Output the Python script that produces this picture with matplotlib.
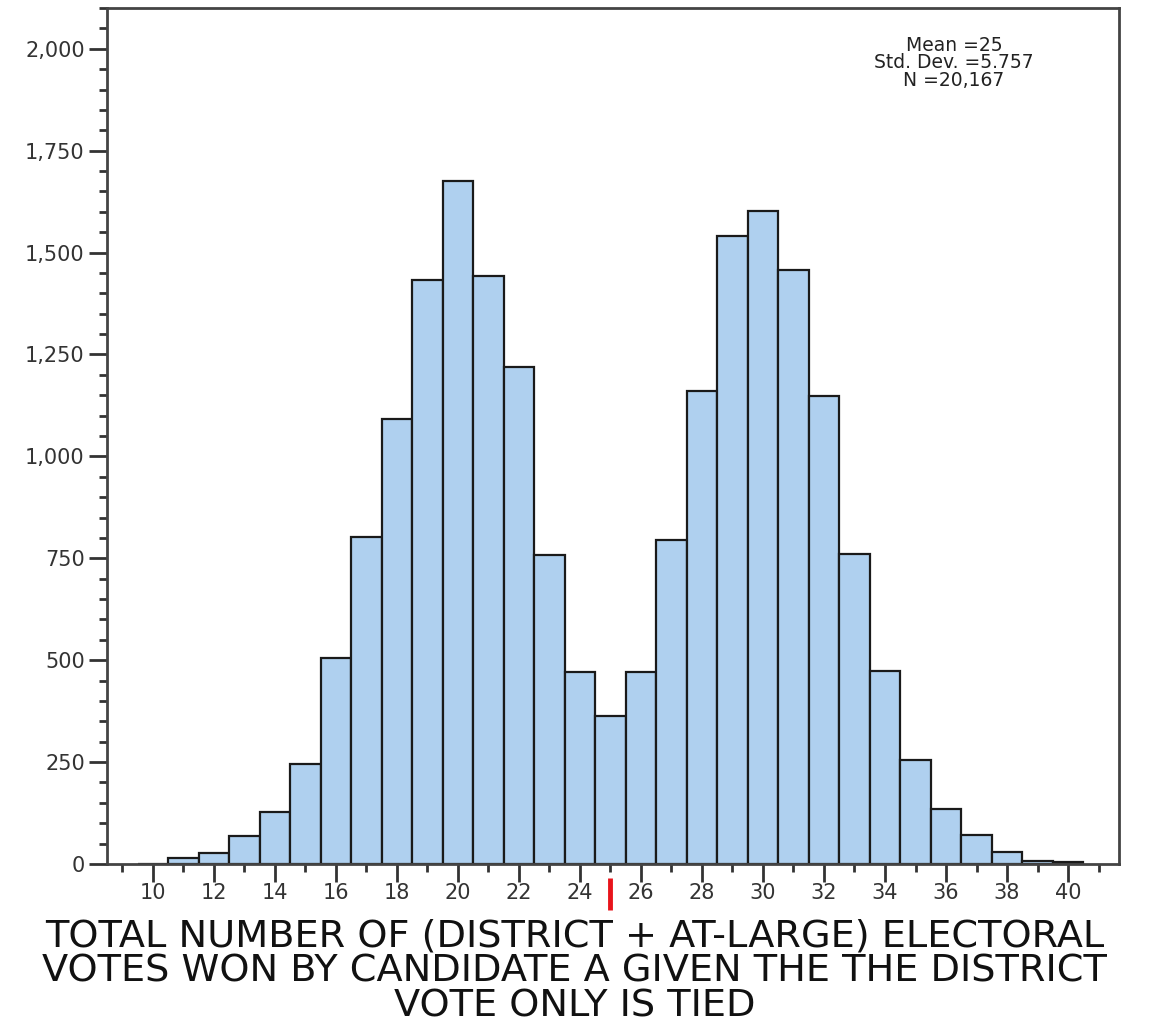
import matplotlib.pyplot as plt
from matplotlib.ticker import MultipleLocator, FuncFormatter
import numpy as np

plt.rcParams.update({
    'font.family': ['DejaVu Sans'],
})

# electoral votes won (bin centres) and simulated counts
votes = [10, 11, 12, 13, 14, 15, 16, 17, 18, 19, 20, 21, 22, 23, 24, 25,
         26, 27, 28, 29, 30, 31, 32, 33, 34, 35, 36, 37, 38, 39, 40]
counts = [0, 15, 27, 69, 128, 246, 506, 801, 1091, 1432, 1676, 1442, 1219, 757, 472, 364,
          472, 796, 1160, 1540, 1602, 1457, 1148, 760, 474, 256, 135, 72, 30, 8, 5]
x_ticks = [10, 12, 14, 16, 18, 20, 22, 24, 26, 28, 30, 32, 34, 36, 38, 40]
stats_text = "Mean =25\nStd. Dev. =5.757\nN =20,167"
tie_value = 25
xlabel = ("TOTAL NUMBER OF (DISTRICT + AT-LARGE) ELECTORAL\n"
          "VOTES WON BY CANDIDATE A GIVEN THE THE DISTRICT\n"
          "VOTE ONLY IS TIED")

fig = plt.figure(figsize=(11.49, 10.30), dpi=100)
ax = fig.add_axes([107 / 1149, 1 - 864 / 1030, (1119 - 107) / 1149, (864 - 8) / 1030])

ax.bar(votes, counts, width=1.0, color='#afd0ef', edgecolor='#1a1a1a', linewidth=1.6)

ax.set_xlim(8.5, 41.67)
ax.set_ylim(0, 2100)

ax.xaxis.set_major_locator(plt.FixedLocator(x_ticks))
ax.xaxis.set_minor_locator(MultipleLocator(1))
ax.yaxis.set_major_locator(MultipleLocator(250))
ax.yaxis.set_minor_locator(MultipleLocator(50))
ax.yaxis.set_major_formatter(FuncFormatter(lambda v, p: f'{int(v):,}'))

ax.tick_params(axis='both', which='major', length=13, width=2, color='#333333',
               labelsize=15, labelcolor='#333333', direction='out')
ax.tick_params(axis='both', which='minor', length=6, width=2, color='#333333', direction='out')
ax.tick_params(axis='y', which='major', pad=3)
ax.tick_params(axis='x', which='major', pad=1)

for s in ax.spines.values():
    s.set_color('#444444')
    s.set_linewidth(2)

ax.text(0.837, 0.967, stats_text, transform=ax.transAxes, ha='center', va='top',
        fontsize=13.5, color='#222222', linespacing=0.88)

# red marker for the tie at 25
ax.plot([tie_value, tie_value], [-35, -112], color='#e8141b', linewidth=3.5,
        clip_on=False, solid_capstyle='butt')

fig.text(0.5, 1 - 918 / 1030, xlabel, ha='center', va='top', fontsize=27.5,
         color='#111111', linespacing=0.98)

fig.savefig('out.png', dpi=100)
